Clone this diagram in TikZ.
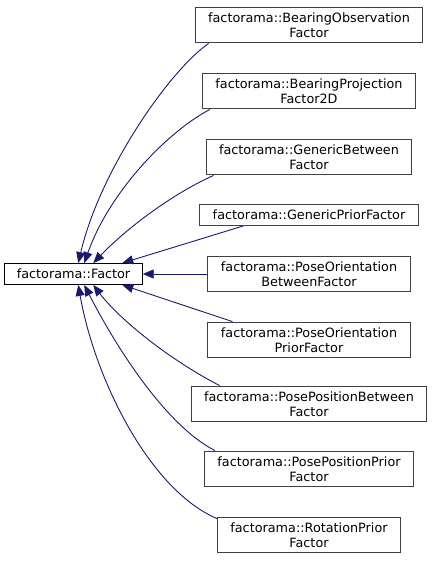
\documentclass[tikz,border=0pt]{standalone}
\usepackage{fontspec}
\setmainfont{DejaVu Sans}
\usetikzlibrary{arrows.meta}
\definecolor{edgeblue}{RGB}{25,25,112}

\newcommand*{\clsx}{309}

\begin{document}
\begin{tikzpicture}
[
	x=1bp, y=-1bp,
	cls/.style={draw=black!75,fill=white,line width=1bp,align=center,inner xsep=13bp,inner ysep=5.5bp,font=\fontsize{12.8bp}{15bp}\selectfont},
	basecls/.style={cls,draw=black,inner xsep=12bp},
	inherit/.style={draw=edgeblue,line width=0.9bp,-{Triangle[length=11bp,width=9bp]}},
]
	\useasboundingbox (0,0) rectangle (432,561);

	% base class
	\node[basecls] (fac) at (73.5,274) {factorama::Factor};

	% derived classes
	\node[cls] (bo) at (\clsx,25) {factorama::BearingObservation\\Factor};
	\node[cls] (bp) at (\clsx,91) {factorama::BearingProjection\\Factor2D};
	\node[cls] (gb) at (\clsx,157) {factorama::GenericBetween\\Factor};
	\node[cls] (gp) at (\clsx,215) {factorama::GenericPriorFactor};
	\node[cls] (pob) at (\clsx,274) {factorama::PoseOrientation\\BetweenFactor};
	\node[cls] (pop) at (\clsx,340) {factorama::PoseOrientation\\PriorFactor};
	\node[cls] (ppb) at (\clsx,404) {factorama::PosePositionBetween\\Factor};
	\node[cls] (ppp) at (\clsx,469) {factorama::PosePositionPrior\\Factor};
	\node[cls] (rp) at (\clsx,535) {factorama::RotationPrior\\Factor};

	% inheritance, upper half
	\draw[inherit] ([xshift=14bp]bo.south west) .. controls (170,70) and (100,170) .. ([xshift=74bp]fac.north west);
	\draw[inherit] ([xshift=8bp]bp.south west) .. controls (170,130) and (110,190) .. ([xshift=80bp]fac.north west);
	\draw[inherit] ([xshift=8bp]gb.south west) .. controls (170,195) and (125,230) .. ([xshift=89bp]fac.north west);
	\draw[inherit] ([xshift=44bp]gp.south west) -- ([xshift=118bp]fac.north west);
	\draw[inherit] (pob.west) -- (fac.east);

	% inheritance, lower half
	\draw[inherit] ([xshift=25bp]pop.north west) -- ([xshift=118bp]fac.south west);
	\draw[inherit] ([xshift=29bp]ppb.north west) .. controls (170,360) and (120,320) .. ([xshift=89bp]fac.south west);
	\draw[inherit] ([xshift=11bp]ppp.north west) .. controls (165,425) and (115,345) .. ([xshift=80bp]fac.south west);
	\draw[inherit] ([yshift=-2bp]rp.north west) .. controls (150,490) and (95,380) .. ([xshift=74bp]fac.south west);

\end{tikzpicture}
\end{document}
